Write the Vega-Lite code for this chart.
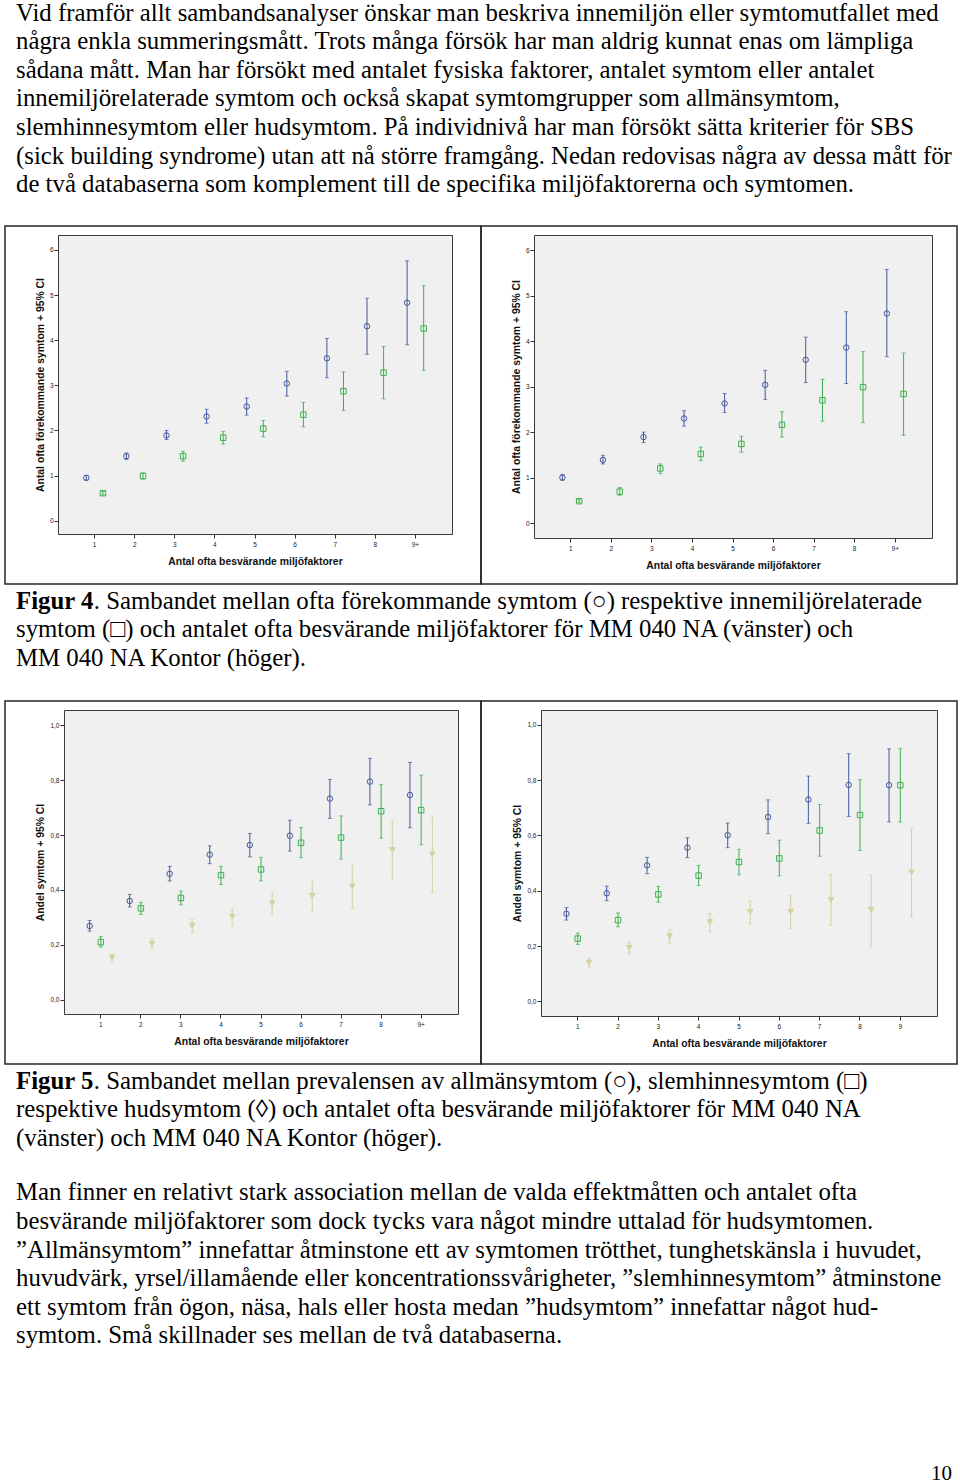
{
"$schema": "https://vega.github.io/schema/vega-lite/v6.json",
"padding": {"left": 4, "top": 0, "right": 0, "bottom": 0},
"autosize": {"type": "pad"},
"background": "white",
"bounds": "flush",
"spacing": 0,
"resolve": {"scale": {"xOffset": "independent", "color": "independent", "stroke": "independent", "fill": "independent", "shape": "independent"}},
"datasets": {
"topText": [
{"line": 1, "text": "Vid framför allt sambandsanalyser önskar man beskriva innemiljön eller symtomutfallet med"},
{"line": 2, "text": "några enkla summeringsmått. Trots många försök har man aldrig kunnat enas om lämpliga"},
{"line": 3, "text": "sådana mått. Man har försökt med antalet fysiska faktorer, antalet symtom eller antalet"},
{"line": 4, "text": "innemiljörelaterade symtom och också skapat symtomgrupper som allmänsymtom,"},
{"line": 5, "text": "slemhinnesymtom eller hudsymtom. På individnivå har man försökt sätta kriterier för SBS"},
{"line": 6, "text": "(sick building syndrome) utan att nå större framgång. Nedan redovisas några av dessa mått för"},
{"line": 7, "text": "de två databaserna som komplement till de specifika miljöfaktorerna och symtomen."}
],
"cap4": [
{"line": 1, "part": "bold", "text": "Figur 4"},
{"line": 1, "part": "after", "text": ". Sambandet mellan ofta förekommande symtom (○) respektive innemiljörelaterade"},
{"line": 2, "part": "normal", "text": "symtom (□) och antalet ofta besvärande miljöfaktorer för MM 040 NA (vänster) och"},
{"line": 3, "part": "normal", "text": "MM 040 NA Kontor (höger)."}
],
"cap5": [
{"line": 1, "part": "bold", "text": "Figur 5"},
{"line": 1, "part": "after", "text": ". Sambandet mellan prevalensen av allmänsymtom (○), slemhinnesymtom (□)"},
{"line": 2, "part": "normal", "text": "respektive hudsymtom (◊) och antalet ofta besvärande miljöfaktorer för MM 040 NA"},
{"line": 3, "part": "normal", "text": "(vänster) och MM 040 NA Kontor (höger)."}
],
"para": [
{"line": 1, "text": "Man finner en relativt stark association mellan de valda effektmåtten och antalet ofta"},
{"line": 2, "text": "besvärande miljöfaktorer som dock tycks vara något mindre uttalad för hudsymtomen."},
{"line": 3, "text": "”Allmänsymtom” innefattar åtminstone ett av symtomen trötthet, tunghetskänsla  i huvudet,"},
{"line": 4, "text": "huvudvärk, yrsel/illamående eller koncentrationssvårigheter, ”slemhinnesymtom” åtminstone"},
{"line": 5, "text": "ett symtom från ögon, näsa, hals eller hosta medan ”hudsymtom” innefattar något hud-"},
{"line": 6, "text": "symtom. Små skillnader ses mellan de två databaserna."}
],
"pageNo": [{"line": 1, "text": "10"}],
"f4l": [
{"n": "1", "s": "förekommande", "m": 0.95, "lo": 0.90, "hi": 1.00},
{"n": "2", "s": "förekommande", "m": 1.43, "lo": 1.36, "hi": 1.50},
{"n": "3", "s": "förekommande", "m": 1.89, "lo": 1.80, "hi": 2.00},
{"n": "4", "s": "förekommande", "m": 2.31, "lo": 2.16, "hi": 2.47},
{"n": "5", "s": "förekommande", "m": 2.53, "lo": 2.34, "hi": 2.72},
{"n": "6", "s": "förekommande", "m": 3.04, "lo": 2.76, "hi": 3.31},
{"n": "7", "s": "förekommande", "m": 3.60, "lo": 3.17, "hi": 4.04},
{"n": "8", "s": "förekommande", "m": 4.31, "lo": 3.69, "hi": 4.93},
{"n": "9+", "s": "förekommande", "m": 4.83, "lo": 3.90, "hi": 5.76},
{"n": "1", "s": "innemiljörelaterade", "m": 0.61, "lo": 0.57, "hi": 0.65},
{"n": "2", "s": "innemiljörelaterade", "m": 0.99, "lo": 0.92, "hi": 1.06},
{"n": "3", "s": "innemiljörelaterade", "m": 1.43, "lo": 1.32, "hi": 1.54},
{"n": "4", "s": "innemiljörelaterade", "m": 1.84, "lo": 1.70, "hi": 1.98},
{"n": "5", "s": "innemiljörelaterade", "m": 2.04, "lo": 1.86, "hi": 2.22},
{"n": "6", "s": "innemiljörelaterade", "m": 2.35, "lo": 2.08, "hi": 2.62},
{"n": "7", "s": "innemiljörelaterade", "m": 2.87, "lo": 2.44, "hi": 3.30},
{"n": "8", "s": "innemiljörelaterade", "m": 3.28, "lo": 2.70, "hi": 3.86},
{"n": "9+", "s": "innemiljörelaterade", "m": 4.26, "lo": 3.33, "hi": 5.21}
],
"f4r": [
{"n": "1", "s": "förekommande", "m": 1.00, "lo": 0.94, "hi": 1.07},
{"n": "2", "s": "förekommande", "m": 1.39, "lo": 1.30, "hi": 1.49},
{"n": "3", "s": "förekommande", "m": 1.89, "lo": 1.77, "hi": 2.00},
{"n": "4", "s": "förekommande", "m": 2.30, "lo": 2.13, "hi": 2.47},
{"n": "5", "s": "förekommande", "m": 2.63, "lo": 2.43, "hi": 2.85},
{"n": "6", "s": "förekommande", "m": 3.04, "lo": 2.72, "hi": 3.36},
{"n": "7", "s": "förekommande", "m": 3.59, "lo": 3.09, "hi": 4.09},
{"n": "8", "s": "förekommande", "m": 3.86, "lo": 3.07, "hi": 4.65},
{"n": "9+", "s": "förekommande", "m": 4.61, "lo": 3.66, "hi": 5.58},
{"n": "1", "s": "innemiljörelaterade", "m": 0.48, "lo": 0.45, "hi": 0.52},
{"n": "2", "s": "innemiljörelaterade", "m": 0.69, "lo": 0.61, "hi": 0.78},
{"n": "3", "s": "innemiljörelaterade", "m": 1.20, "lo": 1.09, "hi": 1.30},
{"n": "4", "s": "innemiljörelaterade", "m": 1.52, "lo": 1.37, "hi": 1.67},
{"n": "5", "s": "innemiljörelaterade", "m": 1.74, "lo": 1.56, "hi": 1.91},
{"n": "6", "s": "innemiljörelaterade", "m": 2.16, "lo": 1.89, "hi": 2.45},
{"n": "7", "s": "innemiljörelaterade", "m": 2.70, "lo": 2.24, "hi": 3.16},
{"n": "8", "s": "innemiljörelaterade", "m": 2.99, "lo": 2.21, "hi": 3.77},
{"n": "9+", "s": "innemiljörelaterade", "m": 2.84, "lo": 1.93, "hi": 3.74}
],
"f5l": [
{"n": "1", "s": "allmänsymtom", "m": 0.269, "lo": 0.250, "hi": 0.289},
{"n": "2", "s": "allmänsymtom", "m": 0.360, "lo": 0.338, "hi": 0.384},
{"n": "3", "s": "allmänsymtom", "m": 0.459, "lo": 0.433, "hi": 0.486},
{"n": "4", "s": "allmänsymtom", "m": 0.529, "lo": 0.496, "hi": 0.561},
{"n": "5", "s": "allmänsymtom", "m": 0.564, "lo": 0.521, "hi": 0.606},
{"n": "6", "s": "allmänsymtom", "m": 0.598, "lo": 0.542, "hi": 0.654},
{"n": "7", "s": "allmänsymtom", "m": 0.733, "lo": 0.661, "hi": 0.803},
{"n": "8", "s": "allmänsymtom", "m": 0.795, "lo": 0.710, "hi": 0.880},
{"n": "9+", "s": "allmänsymtom", "m": 0.746, "lo": 0.627, "hi": 0.865},
{"n": "1", "s": "slemhinnesymtom", "m": 0.210, "lo": 0.192, "hi": 0.230},
{"n": "2", "s": "slemhinnesymtom", "m": 0.333, "lo": 0.311, "hi": 0.355},
{"n": "3", "s": "slemhinnesymtom", "m": 0.371, "lo": 0.346, "hi": 0.396},
{"n": "4", "s": "slemhinnesymtom", "m": 0.454, "lo": 0.420, "hi": 0.486},
{"n": "5", "s": "slemhinnesymtom", "m": 0.475, "lo": 0.433, "hi": 0.519},
{"n": "6", "s": "slemhinnesymtom", "m": 0.572, "lo": 0.518, "hi": 0.628},
{"n": "7", "s": "slemhinnesymtom", "m": 0.591, "lo": 0.513, "hi": 0.670},
{"n": "8", "s": "slemhinnesymtom", "m": 0.687, "lo": 0.589, "hi": 0.784},
{"n": "9+", "s": "slemhinnesymtom", "m": 0.691, "lo": 0.565, "hi": 0.819},
{"n": "1", "s": "hudsymtom", "m": 0.153, "lo": 0.137, "hi": 0.165},
{"n": "2", "s": "hudsymtom", "m": 0.204, "lo": 0.186, "hi": 0.222},
{"n": "3", "s": "hudsymtom", "m": 0.270, "lo": 0.245, "hi": 0.292},
{"n": "4", "s": "hudsymtom", "m": 0.303, "lo": 0.271, "hi": 0.332},
{"n": "5", "s": "hudsymtom", "m": 0.351, "lo": 0.310, "hi": 0.390},
{"n": "6", "s": "hudsymtom", "m": 0.379, "lo": 0.322, "hi": 0.431},
{"n": "7", "s": "hudsymtom", "m": 0.413, "lo": 0.333, "hi": 0.490},
{"n": "8", "s": "hudsymtom", "m": 0.546, "lo": 0.440, "hi": 0.650},
{"n": "9+", "s": "hudsymtom", "m": 0.530, "lo": 0.391, "hi": 0.665}
],
"f5r": [
{"n": "1", "s": "allmänsymtom", "m": 0.317, "lo": 0.294, "hi": 0.339},
{"n": "2", "s": "allmänsymtom", "m": 0.391, "lo": 0.364, "hi": 0.417},
{"n": "3", "s": "allmänsymtom", "m": 0.492, "lo": 0.462, "hi": 0.521},
{"n": "4", "s": "allmänsymtom", "m": 0.556, "lo": 0.520, "hi": 0.592},
{"n": "5", "s": "allmänsymtom", "m": 0.601, "lo": 0.556, "hi": 0.645},
{"n": "6", "s": "allmänsymtom", "m": 0.667, "lo": 0.607, "hi": 0.729},
{"n": "7", "s": "allmänsymtom", "m": 0.730, "lo": 0.644, "hi": 0.815},
{"n": "8", "s": "allmänsymtom", "m": 0.783, "lo": 0.669, "hi": 0.896},
{"n": "9", "s": "allmänsymtom", "m": 0.782, "lo": 0.649, "hi": 0.914},
{"n": "1", "s": "slemhinnesymtom", "m": 0.227, "lo": 0.206, "hi": 0.247},
{"n": "2", "s": "slemhinnesymtom", "m": 0.294, "lo": 0.270, "hi": 0.320},
{"n": "3", "s": "slemhinnesymtom", "m": 0.387, "lo": 0.359, "hi": 0.416},
{"n": "4", "s": "slemhinnesymtom", "m": 0.455, "lo": 0.419, "hi": 0.492},
{"n": "5", "s": "slemhinnesymtom", "m": 0.504, "lo": 0.458, "hi": 0.550},
{"n": "6", "s": "slemhinnesymtom", "m": 0.517, "lo": 0.454, "hi": 0.583},
{"n": "7", "s": "slemhinnesymtom", "m": 0.618, "lo": 0.525, "hi": 0.712},
{"n": "8", "s": "slemhinnesymtom", "m": 0.674, "lo": 0.546, "hi": 0.802},
{"n": "9", "s": "slemhinnesymtom", "m": 0.782, "lo": 0.649, "hi": 0.914},
{"n": "1", "s": "hudsymtom", "m": 0.140, "lo": 0.123, "hi": 0.156},
{"n": "2", "s": "hudsymtom", "m": 0.194, "lo": 0.172, "hi": 0.214},
{"n": "3", "s": "hudsymtom", "m": 0.236, "lo": 0.211, "hi": 0.259},
{"n": "4", "s": "hudsymtom", "m": 0.287, "lo": 0.252, "hi": 0.318},
{"n": "5", "s": "hudsymtom", "m": 0.324, "lo": 0.281, "hi": 0.363},
{"n": "6", "s": "hudsymtom", "m": 0.324, "lo": 0.263, "hi": 0.382},
{"n": "7", "s": "hudsymtom", "m": 0.367, "lo": 0.275, "hi": 0.460},
{"n": "8", "s": "hudsymtom", "m": 0.331, "lo": 0.199, "hi": 0.458},
{"n": "9", "s": "hudsymtom", "m": 0.466, "lo": 0.304, "hi": 0.626}
]
},
"vconcat": [
{
"width": 925, "height": 225,
"view": {"fill": null, "stroke": null},
"data": {"name": "topText"},
"mark": {"type": "text", "x": 0, "dx": 11, "align": "left", "baseline": "alphabetic", "font": "Liberation Serif", "fontSize": 24.8, "color": "#000000"},
"encoding": {
"y": {"field": "line", "type": "quantitative", "scale": {"domain": [0.29825, 8.19298], "reverse": true, "nice": false, "zero": false}, "axis": null},
"text": {"field": "text"}
}
},
{
"bounds": "flush", "spacing": 0,
"hconcat": [
{"width": 476, "height": 358, "view": {"fill": null, "stroke": "#262626", "strokeWidth": 1.5}, "data": {"values": []}, "mark": "point", "encoding": {}},
{"width": 476, "height": 358, "view": {"fill": null, "stroke": "#262626", "strokeWidth": 1.5}, "data": {"values": []}, "mark": "point", "encoding": {}}
]
},
{"width": 1, "height": 9, "view": {"fill": null, "stroke": null}, "data": {"values": []}, "mark": "point", "encoding": {}},
{
"bounds": "flush", "spacing": 0,
"resolve": {"scale": {"xOffset": "independent", "color": "independent", "stroke": "independent", "fill": "independent", "shape": "independent"}},
"hconcat": [
{"width": 53, "height": 1, "view": {"fill": null, "stroke": null}, "data": {"values": []}, "mark": "point", "encoding": {}},
{
"bounds": "flush", "spacing": 82,
"resolve": {"scale": {"xOffset": "independent", "color": "independent", "stroke": "independent", "fill": "independent", "shape": "independent"}},
"hconcat": [
{
"width": 394, "height": 299,
"data": {"name": "f4l"},
"encoding": {
"x": {"field": "n", "type": "ordinal", "sort": null, "title": "Antal ofta besvärande miljöfaktorer", "scale": {"domain": ["1","2","3","4","5","6","7","8","9+"], "paddingInner": 0, "paddingOuter": 0.4127}},
"xOffset": {"field": "s", "type": "nominal", "sort": null, "scale": {"domain": ["förekommande","innemiljörelaterade"], "paddingInner": 0, "paddingOuter": 0.208}}
},
"layer": [
{"mark": {"type": "rule", "strokeWidth": 1},
"encoding": {
"y": {"field": "lo", "type": "quantitative", "title": "Antal ofta förekommande symtom + 95% CI", "scale": {"domain": [-0.295, 6.332], "nice": false, "zero": false}, "axis": {"values": [0,1,2,3,4,5,6]}},
"y2": {"field": "hi"},
"color": {"field": "s", "type": "nominal", "scale": {"domain": ["förekommande","innemiljörelaterade"], "range": ["#44579C","#3DB04E"]}, "legend": null}}},
{"mark": {"type": "tick", "size": 4, "thickness": 1},
"encoding": {
"y": {"field": "lo", "type": "quantitative", "title": "Antal ofta förekommande symtom + 95% CI", "scale": {"domain": [-0.295, 6.332], "nice": false, "zero": false}, "axis": {"values": [0,1,2,3,4,5,6]}},
"color": {"field": "s", "type": "nominal", "scale": {"domain": ["förekommande","innemiljörelaterade"], "range": ["#44579C","#3DB04E"]}, "legend": null}}},
{"mark": {"type": "tick", "size": 4, "thickness": 1},
"encoding": {
"y": {"field": "hi", "type": "quantitative", "title": "Antal ofta förekommande symtom + 95% CI", "scale": {"domain": [-0.295, 6.332], "nice": false, "zero": false}, "axis": {"values": [0,1,2,3,4,5,6]}},
"color": {"field": "s", "type": "nominal", "scale": {"domain": ["förekommande","innemiljörelaterade"], "range": ["#44579C","#3DB04E"]}, "legend": null}}},
{"mark": {"type": "point", "size": 30, "strokeWidth": 1, "opacity": 1},
"encoding": {
"y": {"field": "m", "type": "quantitative", "title": "Antal ofta förekommande symtom + 95% CI", "scale": {"domain": [-0.295, 6.332], "nice": false, "zero": false}, "axis": {"values": [0,1,2,3,4,5,6]}},
"shape": {"field": "s", "type": "nominal", "scale": {"domain": ["förekommande","innemiljörelaterade"], "range": ["circle","square"]}, "legend": null},
"stroke": {"field": "s", "type": "nominal", "scale": {"domain": ["förekommande","innemiljörelaterade"], "range": ["#44579C","#3DB04E"]}, "legend": null},
"fill": {"field": "s", "type": "nominal", "scale": {"domain": ["förekommande","innemiljörelaterade"], "range": ["transparent","transparent"]}, "legend": null}}}
]
},
{
"width": 398, "height": 303,
"data": {"name": "f4r"},
"encoding": {
"x": {"field": "n", "type": "ordinal", "sort": null, "title": "Antal ofta besvärande miljöfaktorer", "scale": {"domain": ["1","2","3","4","5","6","7","8","9+"], "paddingInner": 0, "paddingOuter": 0.407}},
"xOffset": {"field": "s", "type": "nominal", "sort": null, "scale": {"domain": ["förekommande","innemiljörelaterade"], "paddingInner": 0, "paddingOuter": 0.21}}
},
"layer": [
{"mark": {"type": "rule", "strokeWidth": 1},
"encoding": {
"y": {"field": "lo", "type": "quantitative", "title": "Antal ofta förekommande symtom + 95% CI", "scale": {"domain": [-0.33, 6.337], "nice": false, "zero": false}, "axis": {"values": [0,1,2,3,4,5,6]}},
"y2": {"field": "hi"},
"color": {"field": "s", "type": "nominal", "scale": {"domain": ["förekommande","innemiljörelaterade"], "range": ["#44579C","#3DB04E"]}, "legend": null}}},
{"mark": {"type": "tick", "size": 4, "thickness": 1},
"encoding": {
"y": {"field": "lo", "type": "quantitative", "title": "Antal ofta förekommande symtom + 95% CI", "scale": {"domain": [-0.33, 6.337], "nice": false, "zero": false}, "axis": {"values": [0,1,2,3,4,5,6]}},
"color": {"field": "s", "type": "nominal", "scale": {"domain": ["förekommande","innemiljörelaterade"], "range": ["#44579C","#3DB04E"]}, "legend": null}}},
{"mark": {"type": "tick", "size": 4, "thickness": 1},
"encoding": {
"y": {"field": "hi", "type": "quantitative", "title": "Antal ofta förekommande symtom + 95% CI", "scale": {"domain": [-0.33, 6.337], "nice": false, "zero": false}, "axis": {"values": [0,1,2,3,4,5,6]}},
"color": {"field": "s", "type": "nominal", "scale": {"domain": ["förekommande","innemiljörelaterade"], "range": ["#44579C","#3DB04E"]}, "legend": null}}},
{"mark": {"type": "point", "size": 30, "strokeWidth": 1, "opacity": 1},
"encoding": {
"y": {"field": "m", "type": "quantitative", "title": "Antal ofta förekommande symtom + 95% CI", "scale": {"domain": [-0.33, 6.337], "nice": false, "zero": false}, "axis": {"values": [0,1,2,3,4,5,6]}},
"shape": {"field": "s", "type": "nominal", "scale": {"domain": ["förekommande","innemiljörelaterade"], "range": ["circle","square"]}, "legend": null},
"stroke": {"field": "s", "type": "nominal", "scale": {"domain": ["förekommande","innemiljörelaterade"], "range": ["#44579C","#3DB04E"]}, "legend": null},
"fill": {"field": "s", "type": "nominal", "scale": {"domain": ["förekommande","innemiljörelaterade"], "range": ["transparent","transparent"]}, "legend": null}}}
]
}
]
}
]
},
{
"width": 925, "height": 466,
"view": {"fill": null, "stroke": null},
"data": {"name": "cap4"},
"encoding": {
"y": {"field": "line", "type": "quantitative", "scale": {"domain": [-12.1053, 4.2456], "reverse": true, "nice": false, "zero": false}, "axis": null},
"text": {"field": "text"}
},
"layer": [
{"transform": [{"filter": "datum.part == 'bold'"}], "mark": {"type": "text", "x": 0, "dx": 11, "align": "left", "baseline": "alphabetic", "font": "Liberation Serif", "fontSize": 24.8, "fontWeight": "bold", "color": "#000000"}},
{"transform": [{"filter": "datum.part == 'after'"}], "mark": {"type": "text", "x": 0, "dx": 88.8, "align": "left", "baseline": "alphabetic", "font": "Liberation Serif", "fontSize": 24.8, "color": "#000000"}},
{"transform": [{"filter": "datum.part == 'normal'"}], "mark": {"type": "text", "x": 0, "dx": 11, "align": "left", "baseline": "alphabetic", "font": "Liberation Serif", "fontSize": 24.8, "color": "#000000"}}
]
},
{
"bounds": "flush", "spacing": 0,
"hconcat": [
{"width": 476, "height": 363, "view": {"fill": null, "stroke": "#262626", "strokeWidth": 1.5}, "data": {"values": []}, "mark": "point", "encoding": {}},
{"width": 476, "height": 363, "view": {"fill": null, "stroke": "#262626", "strokeWidth": 1.5}, "data": {"values": []}, "mark": "point", "encoding": {}}
]
},
{"width": 1, "height": 9, "view": {"fill": null, "stroke": null}, "data": {"values": []}, "mark": "point", "encoding": {}},
{
"bounds": "flush", "spacing": 0,
"resolve": {"scale": {"xOffset": "independent", "color": "independent", "stroke": "independent", "fill": "independent", "shape": "independent"}},
"hconcat": [
{"width": 59, "height": 1, "view": {"fill": null, "stroke": null}, "data": {"values": []}, "mark": "point", "encoding": {}},
{
"bounds": "flush", "spacing": 83,
"resolve": {"scale": {"xOffset": "independent", "color": "independent", "stroke": "independent", "fill": "independent", "shape": "independent"}},
"hconcat": [
{
"width": 394, "height": 304,
"data": {"name": "f5l"},
"encoding": {
"x": {"field": "n", "type": "ordinal", "sort": null, "title": "Antal ofta besvärande miljöfaktorer", "scale": {"domain": ["1","2","3","4","5","6","7","8","9+"], "paddingInner": 0, "paddingOuter": 0.42}},
"xOffset": {"field": "s", "type": "nominal", "sort": null, "scale": {"domain": ["allmänsymtom","slemhinnesymtom","hudsymtom"], "paddingInner": 0, "paddingOuter": 0.2875}}
},
"layer": [
{"mark": {"type": "rule", "strokeWidth": 1},
"encoding": {
"y": {"field": "lo", "type": "quantitative", "title": "Andel symtom + 95% CI", "scale": {"domain": [-0.052, 1.056], "nice": false, "zero": false}, "axis": {"values": [0,0.2,0.4,0.6,0.8,1], "labelExpr": "replace(format(datum.value, '.1f'), '.', ',')"}},
"y2": {"field": "hi"},
"color": {"field": "s", "type": "nominal", "scale": {"domain": ["allmänsymtom","slemhinnesymtom","hudsymtom"], "range": ["#44579C","#3DB04E","#D6D1A0"]}, "legend": null}}},
{"mark": {"type": "tick", "size": 4, "thickness": 1},
"encoding": {
"y": {"field": "lo", "type": "quantitative", "title": "Andel symtom + 95% CI", "scale": {"domain": [-0.052, 1.056], "nice": false, "zero": false}, "axis": {"values": [0,0.2,0.4,0.6,0.8,1], "labelExpr": "replace(format(datum.value, '.1f'), '.', ',')"}},
"color": {"field": "s", "type": "nominal", "scale": {"domain": ["allmänsymtom","slemhinnesymtom","hudsymtom"], "range": ["#44579C","#3DB04E","#D6D1A0"]}, "legend": null}}},
{"mark": {"type": "tick", "size": 4, "thickness": 1},
"encoding": {
"y": {"field": "hi", "type": "quantitative", "title": "Andel symtom + 95% CI", "scale": {"domain": [-0.052, 1.056], "nice": false, "zero": false}, "axis": {"values": [0,0.2,0.4,0.6,0.8,1], "labelExpr": "replace(format(datum.value, '.1f'), '.', ',')"}},
"color": {"field": "s", "type": "nominal", "scale": {"domain": ["allmänsymtom","slemhinnesymtom","hudsymtom"], "range": ["#44579C","#3DB04E","#D6D1A0"]}, "legend": null}}},
{"mark": {"type": "point", "size": 30, "strokeWidth": 1, "opacity": 1},
"encoding": {
"y": {"field": "m", "type": "quantitative", "title": "Andel symtom + 95% CI", "scale": {"domain": [-0.052, 1.056], "nice": false, "zero": false}, "axis": {"values": [0,0.2,0.4,0.6,0.8,1], "labelExpr": "replace(format(datum.value, '.1f'), '.', ',')"}},
"shape": {"field": "s", "type": "nominal", "scale": {"domain": ["allmänsymtom","slemhinnesymtom","hudsymtom"], "range": ["circle","square","triangle-down"]}, "legend": null},
"stroke": {"field": "s", "type": "nominal", "scale": {"domain": ["allmänsymtom","slemhinnesymtom","hudsymtom"], "range": ["#44579C","#3DB04E","#D6D1A0"]}, "legend": null},
"fill": {"field": "s", "type": "nominal", "scale": {"domain": ["allmänsymtom","slemhinnesymtom","hudsymtom"], "range": ["transparent","transparent","#D6D1A0"]}, "legend": null}}}
]
},
{
"width": 396, "height": 306,
"data": {"name": "f5r"},
"encoding": {
"x": {"field": "n", "type": "ordinal", "sort": null, "title": "Antal ofta besvärande miljöfaktorer", "scale": {"domain": ["1","2","3","4","5","6","7","8","9"], "paddingInner": 0, "paddingOuter": 0.41}},
"xOffset": {"field": "s", "type": "nominal", "sort": null, "scale": {"domain": ["allmänsymtom","slemhinnesymtom","hudsymtom"], "paddingInner": 0, "paddingOuter": 0.2875}}
},
"layer": [
{"mark": {"type": "rule", "strokeWidth": 1},
"encoding": {
"y": {"field": "lo", "type": "quantitative", "title": "Andel symtom + 95% CI", "scale": {"domain": [-0.053, 1.054], "nice": false, "zero": false}, "axis": {"values": [0,0.2,0.4,0.6,0.8,1], "labelExpr": "replace(format(datum.value, '.1f'), '.', ',')"}},
"y2": {"field": "hi"},
"color": {"field": "s", "type": "nominal", "scale": {"domain": ["allmänsymtom","slemhinnesymtom","hudsymtom"], "range": ["#44579C","#3DB04E","#D6D1A0"]}, "legend": null}}},
{"mark": {"type": "tick", "size": 4, "thickness": 1},
"encoding": {
"y": {"field": "lo", "type": "quantitative", "title": "Andel symtom + 95% CI", "scale": {"domain": [-0.053, 1.054], "nice": false, "zero": false}, "axis": {"values": [0,0.2,0.4,0.6,0.8,1], "labelExpr": "replace(format(datum.value, '.1f'), '.', ',')"}},
"color": {"field": "s", "type": "nominal", "scale": {"domain": ["allmänsymtom","slemhinnesymtom","hudsymtom"], "range": ["#44579C","#3DB04E","#D6D1A0"]}, "legend": null}}},
{"mark": {"type": "tick", "size": 4, "thickness": 1},
"encoding": {
"y": {"field": "hi", "type": "quantitative", "title": "Andel symtom + 95% CI", "scale": {"domain": [-0.053, 1.054], "nice": false, "zero": false}, "axis": {"values": [0,0.2,0.4,0.6,0.8,1], "labelExpr": "replace(format(datum.value, '.1f'), '.', ',')"}},
"color": {"field": "s", "type": "nominal", "scale": {"domain": ["allmänsymtom","slemhinnesymtom","hudsymtom"], "range": ["#44579C","#3DB04E","#D6D1A0"]}, "legend": null}}},
{"mark": {"type": "point", "size": 30, "strokeWidth": 1, "opacity": 1},
"encoding": {
"y": {"field": "m", "type": "quantitative", "title": "Andel symtom + 95% CI", "scale": {"domain": [-0.053, 1.054], "nice": false, "zero": false}, "axis": {"values": [0,0.2,0.4,0.6,0.8,1], "labelExpr": "replace(format(datum.value, '.1f'), '.', ',')"}},
"shape": {"field": "s", "type": "nominal", "scale": {"domain": ["allmänsymtom","slemhinnesymtom","hudsymtom"], "range": ["circle","square","triangle-down"]}, "legend": null},
"stroke": {"field": "s", "type": "nominal", "scale": {"domain": ["allmänsymtom","slemhinnesymtom","hudsymtom"], "range": ["#44579C","#3DB04E","#D6D1A0"]}, "legend": null},
"fill": {"field": "s", "type": "nominal", "scale": {"domain": ["allmänsymtom","slemhinnesymtom","hudsymtom"], "range": ["transparent","transparent","#D6D1A0"]}, "legend": null}}}
]
}
]
}
]
},
{
"width": 925, "height": 456,
"view": {"fill": null, "stroke": null},
"data": {"name": "cap5"},
"encoding": {
"y": {"field": "line", "type": "quantitative", "scale": {"domain": [-12.2982, 3.7018], "reverse": true, "nice": false, "zero": false}, "axis": null},
"text": {"field": "text"}
},
"layer": [
{"transform": [{"filter": "datum.part == 'bold'"}], "mark": {"type": "text", "x": 0, "dx": 11, "align": "left", "baseline": "alphabetic", "font": "Liberation Serif", "fontSize": 24.8, "fontWeight": "bold", "color": "#000000"}},
{"transform": [{"filter": "datum.part == 'after'"}], "mark": {"type": "text", "x": 0, "dx": 88.8, "align": "left", "baseline": "alphabetic", "font": "Liberation Serif", "fontSize": 24.8, "color": "#000000"}},
{"transform": [{"filter": "datum.part == 'normal'"}], "mark": {"type": "text", "x": 0, "dx": 11, "align": "left", "baseline": "alphabetic", "font": "Liberation Serif", "fontSize": 24.8, "color": "#000000"}}
]
},
{
"width": 925, "height": 235,
"view": {"fill": null, "stroke": null},
"data": {"name": "para"},
"mark": {"type": "text", "x": 0, "dx": 11, "align": "left", "baseline": "alphabetic", "font": "Liberation Serif", "fontSize": 24.8, "color": "#000000"},
"encoding": {
"y": {"field": "line", "type": "quantitative", "scale": {"domain": [-0.2105, 8.035], "reverse": true, "nice": false, "zero": false}, "axis": null},
"text": {"field": "text"}
}
},
{
"width": 947, "height": 84,
"view": {"fill": null, "stroke": null},
"data": {"name": "pageNo"},
"mark": {"type": "text", "x": "width", "align": "right", "baseline": "alphabetic", "font": "Liberation Serif", "fontSize": 21, "color": "#000000"},
"encoding": {
"y": {"field": "line", "type": "quantitative", "scale": {"domain": [-1.7719, 1.1754], "reverse": true, "nice": false, "zero": false}, "axis": null},
"text": {"field": "text"}
}
}
],
"config": {
"view": {"fill": "#F0F0F0", "stroke": "#3A3A3A", "strokeWidth": 1},
"axis": {"labelFont": "Liberation Sans", "titleFont": "Liberation Sans", "labelFontSize": 6.5, "titleFontSize": 10.4, "titleFontWeight": "bold", "labelColor": "#1A1A1A", "titleColor": "#111111", "tickColor": "#333333", "domain": false, "grid": false, "tickSize": 4},
"axisY": {"labelPadding": 1, "titlePadding": 4},
"axisX": {"labelAngle": 0, "labelPadding": 3, "titlePadding": 9}
}
}
